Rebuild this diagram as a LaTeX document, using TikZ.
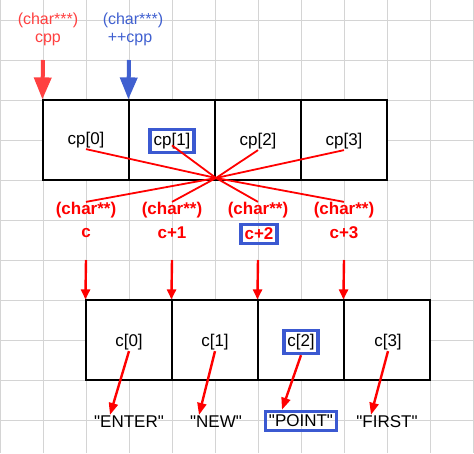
\documentclass[tikz,border=0pt]{standalone}
\usepackage{fontspec}
\setmainfont{Liberation Sans}[Ligatures=TeXOff]
\usetikzlibrary{arrows.meta}

\definecolor{gridgray}{RGB}{212,212,212}
\definecolor{softred}{RGB}{255,64,64}
\definecolor{inkblue}{RGB}{64,96,208}
\definecolor{boxblue}{RGB}{59,89,209}

\tikzset{
    gridline/.style={draw=gridgray, line width=1pt},
    cellbox/.style={draw=black, fill=white, line width=1.2pt, minimum width=86pt, minimum height=80pt, inner sep=0pt},
    elem/.style={font=\fontsize{17}{19}\selectfont, inner sep=1pt},
    hl/.style={draw=boxblue, line width=3.5pt, inner sep=3.5pt},
    toplabel/.style={font=\fontsize{16}{18}\selectfont, inner sep=0pt},
    ptrtype/.style={text=red, font=\fontsize{17}{19}\selectfont\bfseries, inner sep=0pt},
    ray/.style={red, line width=1.8pt},
    fat/.style={line width=4pt, -{Triangle[width=17pt,length=22pt]}},
    drop/.style={red, line width=2.4pt, -{Triangle[width=9pt,length=10pt]}},
    link/.style={red, line width=2.4pt, -{Triangle[width=9pt,length=12pt]}},
}

\begin{document}
\begin{tikzpicture}[x=1pt, y=-1pt]
        \useasboundingbox (0,0) rectangle (474,453);
        \draw[gridline, xstep=43pt, ystep=40pt, yshift=-20pt] (0,-20) grid (474,433);

        % cp array
        \node[cellbox] (cpcell0) at (86,140) {};
        \node[cellbox] (cpcell1) at (172,140) {};
        \node[cellbox] (cpcell2) at (258,140) {};
        \node[cellbox] (cpcell3) at (344,140) {};

        \node[elem] (cp0) at (86,140) {cp[0]};
        \node[elem, hl] (cp1) at (172,141) {cp[1]};
        \node[elem] (cp2) at (258,141) {cp[2]};
        \node[elem] (cp3) at (344,141) {cp[3]};

        % cpp and ++cpp
        \node[toplabel, text=softred] (cpptype) at (48,20) {(char***)};
        \node[toplabel, text=softred] (cppname) at (48,40) {cpp};
        \node[toplabel, text=inkblue] (inctype) at (133,20) {(char***)};
        \node[toplabel, text=inkblue] (incname) at (130,40) {++cpp};

        \coordinate (cpptail) at (43,60);
        \coordinate (inctail) at (129,60);
        \draw[fat, softred] (cpptail) -- (cpcell0.north west);
        \draw[fat, inkblue] (inctail) -- (cpcell1.north west);

        % c, c+1, c+2, c+3
        \node[ptrtype] (ty0) at (86,210) {(char**)};
        \node[ptrtype] (ty1) at (172,210) {(char**)};
        \node[ptrtype] (ty2) at (258,210) {(char**)};
        \node[ptrtype] (ty3) at (344,210) {(char**)};
        \node[ptrtype] (nm0) at (86,233) {c};
        \node[ptrtype] (nm1) at (172,233) {c+1};
        \node[ptrtype, hl] (nm2) at (259,234) {c+2};
        \node[ptrtype] (nm3) at (344,233) {c+3};

        \coordinate (hub) at (216,178);
        \draw[ray] (hub) -- (cp0.south);
        \draw[ray] (hub) -- (cp1.base);
        \draw[ray] (hub) -- (cp2.south);
        \draw[ray] (hub) -- (cp3.south);
        \draw[ray] (hub) -- (ty0.north);
        \draw[ray] (hub) -- (ty1.north);
        \draw[ray] (hub) -- (ty2.north);
        \draw[ray] (hub) -- (ty3.north);

        % c array
        \node[cellbox] (ccell0) at (129,340) {};
        \node[cellbox] (ccell1) at (215,340) {};
        \node[cellbox] (ccell2) at (301,340) {};
        \node[cellbox] (ccell3) at (387,340) {};

        \node[elem] (c0) at (129,342) {c[0]};
        \node[elem] (c1) at (215,342) {c[1]};
        \node[elem, hl] (c2) at (301,342) {c[2]};
        \node[elem] (c3) at (388,342) {c[3]};

        \coordinate (drop0) at (86,260);
        \coordinate (drop1) at (172,260);
        \coordinate (drop2) at (258,260);
        \coordinate (drop3) at (344,260);
        \draw[drop] (drop0) -- (ccell0.north west);
        \draw[drop] (drop1) -- (ccell1.north west);
        \draw[drop] (drop2) -- (ccell2.north west);
        \draw[drop] (drop3) -- (ccell3.north west);

        % strings
        \node[elem] (str0) at (129,422) {"ENTER"};
        \node[elem] (str1) at (216,422) {"NEW"};
        \node[elem, hl] (str2) at (301,421) {"POINT"};
        \node[elem] (str3) at (387,422) {"FIRST"};

        \draw[link] (c0.south) -- ([xshift=-19pt]str0.north);
        \draw[link] (c1.south) -- ([xshift=-17pt]str1.north);
        \draw[link] (c2.south) -- ([xshift=-19pt]str2.north);
        \draw[link] (c3.south) -- ([xshift=-16pt]str3.north);

    \end{tikzpicture}
\end{document}
